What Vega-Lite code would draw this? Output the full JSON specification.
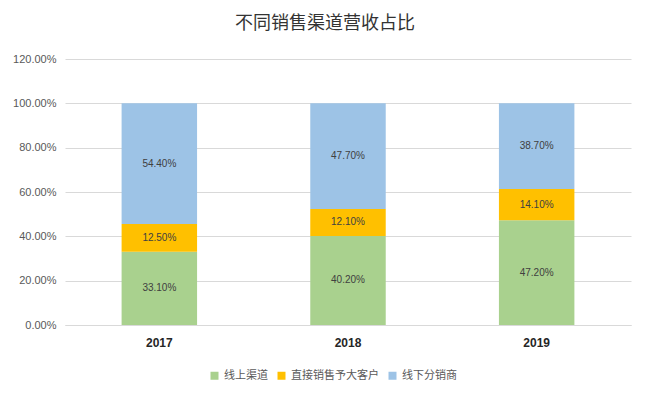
{
  "$schema": "https://vega.github.io/schema/vega-lite/v6.json",
  "autosize": {"type": "none"},
  "width": 566,
  "height": 266,
  "padding": {"left": 65, "top": 59, "right": 19, "bottom": 71},
  "background": "white",
  "title": {
    "text": "不同销售渠道营收占比",
    "font": "Noto Sans CJK SC",
    "fontSize": 18,
    "fontWeight": "normal",
    "color": "#333333",
    "anchor": "middle",
    "frame": "group",
    "dx": -23,
    "offset": 20
  },
  "config": {
    "view": {"stroke": null},
    "font": "Liberation Sans"
  },
  "data": {
    "values": [
      {"year": "2017", "channel": "线上渠道", "k": 1, "value": 0.331},
      {"year": "2017", "channel": "直接销售予大客户", "k": 2, "value": 0.125},
      {"year": "2017", "channel": "线下分销商", "k": 3, "value": 0.544},
      {"year": "2018", "channel": "线上渠道", "k": 1, "value": 0.402},
      {"year": "2018", "channel": "直接销售予大客户", "k": 2, "value": 0.121},
      {"year": "2018", "channel": "线下分销商", "k": 3, "value": 0.477},
      {"year": "2019", "channel": "线上渠道", "k": 1, "value": 0.472},
      {"year": "2019", "channel": "直接销售予大客户", "k": 2, "value": 0.141},
      {"year": "2019", "channel": "线下分销商", "k": 3, "value": 0.387}
    ]
  },
  "transform": [
    {"stack": "value", "groupby": ["year"], "sort": [{"field": "k", "order": "ascending"}], "as": ["v0", "v1"]},
    {"calculate": "(datum.v0 + datum.v1) / 2", "as": "mid"}
  ],
  "encoding": {
    "x": {
      "field": "year",
      "type": "nominal",
      "scale": {"paddingInner": 0.6, "paddingOuter": 0.3},
      "axis": {
        "title": null,
        "labelAngle": 0,
        "labelFont": "Liberation Sans",
        "labelFontSize": 12,
        "labelFontWeight": "bold",
        "labelColor": "#262626",
        "labelPadding": 12,
        "ticks": false,
        "domainColor": "#d9d9d9"
      }
    }
  },
  "layer": [
    {
      "mark": {"type": "bar"},
      "encoding": {
        "y": {
          "field": "v0",
          "type": "quantitative",
          "scale": {"domain": [0, 1.2], "nice": false},
          "axis": {
            "title": null,
            "values": [0, 0.2, 0.4, 0.6, 0.8, 1.0, 1.2],
            "format": ".2%",
            "labelFontSize": 11,
            "labelColor": "#595959",
            "labelPadding": 9,
            "ticks": false,
            "domain": false,
            "gridColor": "#d9d9d9"
          }
        },
        "y2": {"field": "v1"},
        "color": {
          "field": "channel",
          "type": "nominal",
          "sort": ["线上渠道", "直接销售予大客户", "线下分销商"],
          "scale": {
            "domain": ["线上渠道", "直接销售予大客户", "线下分销商"],
            "range": ["#A9D18E", "#FFC000", "#9DC3E6"]
          },
          "legend": {
            "title": null,
            "orient": "none",
            "legendX": 144,
            "legendY": 311,
            "direction": "horizontal",
            "symbolType": "square",
            "symbolSize": 64,
            "symbolStrokeWidth": 0,
            "labelFont": "Noto Sans CJK SC",
            "labelFontSize": 11,
            "labelColor": "#595959",
            "columnPadding": 8,
            "labelOffset": 4
          }
        }
      }
    },
    {
      "mark": {"type": "text", "fontSize": 10, "color": "#404040", "font": "Liberation Sans"},
      "encoding": {
        "y": {"field": "mid", "type": "quantitative"},
        "text": {"field": "value", "type": "quantitative", "format": ".2%"}
      }
    }
  ]
}
